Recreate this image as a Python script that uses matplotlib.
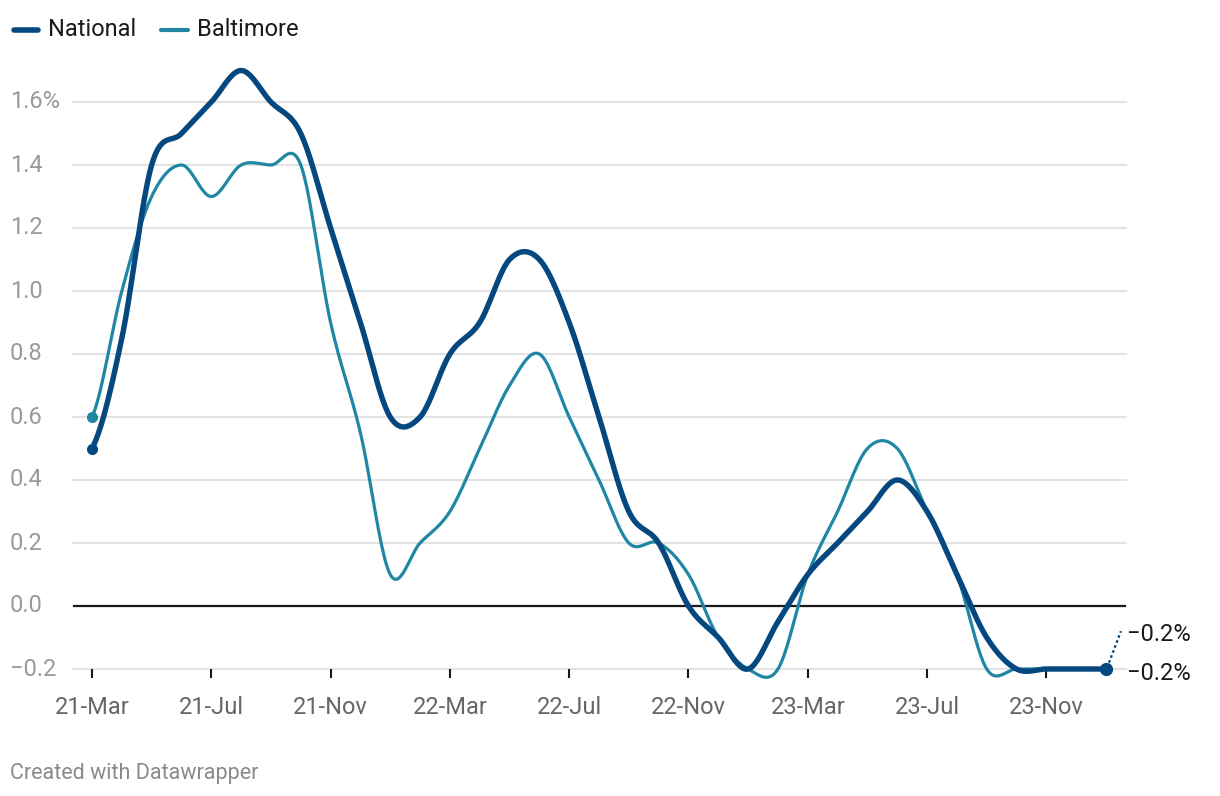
import numpy as np
import matplotlib
matplotlib.use("Agg")
import matplotlib.pyplot as plt
from matplotlib.lines import Line2D
from matplotlib.transforms import blended_transform_factory

plt.rcParams['font.family'] = ['Roboto', 'DejaVu Sans']

# monthly values, 21-Mar .. 24-Jan
national = [0.5, 0.85, 1.4, 1.5, 1.6, 1.7, 1.6, 1.5, 1.2, 0.9, 0.6, 0.6,
            0.8, 0.9, 1.1, 1.1, 0.9, 0.6, 0.3, 0.2, 0.0, -0.1, -0.2, -0.05,
            0.1, 0.2, 0.3, 0.4, 0.3, 0.1, -0.1, -0.2, -0.2, -0.2, -0.2]
baltimore = [0.6, 1.0, 1.3, 1.4, 1.3, 1.4, 1.4, 1.4, 0.9, 0.55, 0.1, 0.2,
             0.3, 0.5, 0.7, 0.8, 0.6, 0.4, 0.2, 0.2, 0.1, -0.1, -0.2, -0.2,
             0.1, 0.3, 0.5, 0.5, 0.3, 0.1, -0.2, -0.2, -0.2, -0.2, -0.2]
tick_pos = [0, 4, 8, 12, 16, 20, 24, 28, 32]
tick_labels = ['21-Mar', '21-Jul', '21-Nov', '22-Mar', '22-Jul', '22-Nov',
               '23-Mar', '23-Jul', '23-Nov']
y_ticks = [-0.2, 0.0, 0.2, 0.4, 0.6, 0.8, 1.0, 1.2, 1.4, 1.6]
y_labels = ['\u22120.2', '0.0', '0.2', '0.4', '0.6', '0.8', '1.0', '1.2', '1.4', '1.6%']

NAVY = '#04487f'
TEAL = '#1f87a4'


def catmull(vals, n=24):
    # uniform catmull-rom through the points
    y = np.asarray(vals, float)
    p = np.concatenate([[y[0]], y, [y[-1]]])
    t = np.linspace(0, 1, n, endpoint=False)
    h00 = 2 * t**3 - 3 * t**2 + 1
    h10 = t**3 - 2 * t**2 + t
    h01 = -2 * t**3 + 3 * t**2
    h11 = t**3 - t**2
    xs, ys = [], []
    for i in range(len(y) - 1):
        p0, p1, p2, p3 = p[i], p[i + 1], p[i + 2], p[i + 3]
        m1 = (p2 - p0) / 2
        m2 = (p3 - p1) / 2
        xs.append(i + t)
        ys.append(h00 * p1 + h10 * m1 + h01 * p2 + h11 * m2)
    xs.append([len(y) - 1])
    ys.append([y[-1]])
    return np.concatenate(xs), np.concatenate(ys)


W, H = 1220, 796
fig = plt.figure(figsize=(W / 100, H / 100), dpi=100)
ax = fig.add_axes([73 / W, (H - 669) / H, (1126 - 73) / W, 614.25 / H])
ax.set_xlim(-0.637, 34.67)
ax.set_ylim(-0.2, 1.75)
for s in ax.spines.values():
    s.set_visible(False)

for v in y_ticks:
    ax.axhline(v, color='#e3e3e3', lw=1.5, zorder=1, clip_on=False)
ax.axhline(0, color='#1a1a1a', lw=1.6, zorder=2)

ax.set_yticks([])
tr = blended_transform_factory(fig.transFigure, ax.transData)
for v, lab in zip(y_ticks, y_labels):
    ax.text(10 / W, v, lab, transform=tr, ha='left', va='center',
            fontsize=17, color='#9a9a9a')

ax.set_xticks(tick_pos, tick_labels)
ax.tick_params(axis='x', direction='out', length=6.5, width=1.5, color='#1a1a1a',
               labelsize=17, labelcolor='#666666', pad=13)

bx, by = catmull(baltimore)
nx, ny = catmull(national)
ax.plot(bx, by, color=TEAL, lw=2.3, zorder=3, clip_on=False, solid_capstyle='round')
ax.plot(nx, ny, color=NAVY, lw=3.9, zorder=4, clip_on=False, solid_capstyle='round')
ax.plot([0], [baltimore[0]], 'o', color=TEAL, ms=7, zorder=5, clip_on=False)
ax.plot([0], [national[0]], 'o', color=NAVY, ms=7, zorder=5, clip_on=False)
ax.plot([34], [national[-1]], 'o', color=NAVY, ms=8.5, zorder=5, clip_on=False)

# end labels
ax.plot([34.1, 34.5], [-0.18, -0.08], color=NAVY, lw=1.6, ls=(0, (1.2, 1.2)),
        clip_on=False, zorder=4)
ax.text(34.7, -0.09, '\u22120.2%', fontsize=17, color='#1a1a1a', va='center', ha='left')
ax.text(34.7, -0.213, '\u22120.2%', fontsize=17, color='#1a1a1a', va='center', ha='left')

# legend
ly = 1 - 30 / H
fig.add_artist(Line2D([14 / W, 38 / W], [ly, ly], color=NAVY, lw=4,
                      solid_capstyle='round'))
fig.text(48 / W, ly, 'National', fontsize=17, color='#1a1a1a', va='center')
fig.add_artist(Line2D([161 / W, 188 / W], [ly, ly], color=TEAL, lw=3,
                      solid_capstyle='round'))
fig.text(197 / W, ly, 'Baltimore', fontsize=17, color='#1a1a1a', va='center')

fig.text(10 / W, 1 - 774 / H, 'Created with Datawrapper', fontsize=15.5,
         color='#8a8a8a', va='center')

fig.savefig('out.png', dpi=100)
